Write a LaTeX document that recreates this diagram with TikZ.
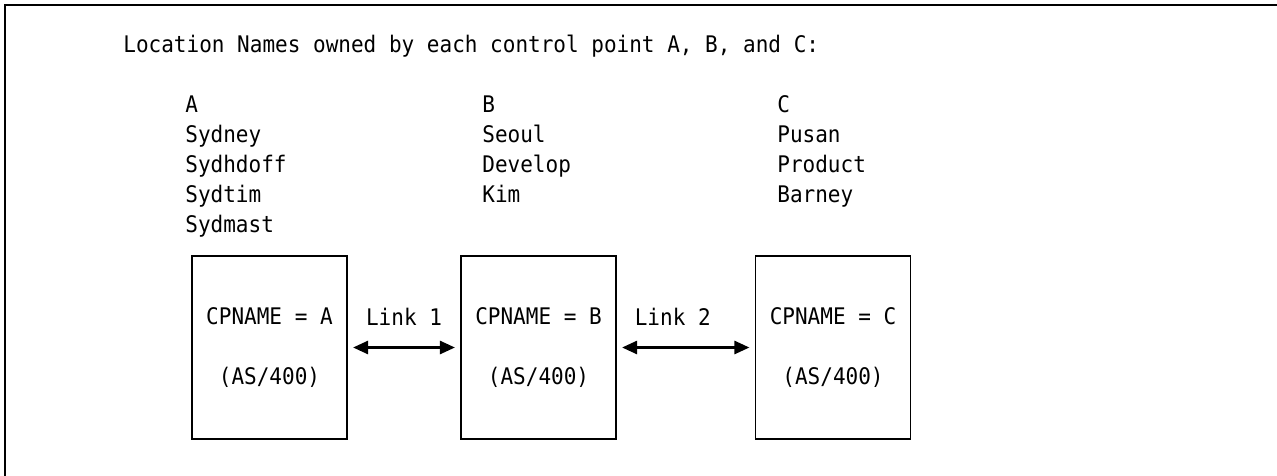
\documentclass[tikz,border=0pt]{standalone}
\usepackage{fontspec}
\newfontfamily\cpfont[FakeStretch=0.92]{DejaVu Sans Mono}
\usetikzlibrary{positioning, arrows.meta}

\begin{document}
\begin{tikzpicture}[
  x=0.02cm, y=-0.02cm,
  frame/.style={line width=1.1pt, black},
  cpbox/.style={rectangle, draw=black, line width=1pt, minimum width=3.1cm, minimum height=3.66cm, inner sep=0pt, align=center, font=\cpfont\fontsize{13pt}{17pt}\selectfont},
  entry/.style={anchor=base west, inner sep=0pt, font=\cpfont\fontsize{13pt}{17pt}\selectfont},
  link/.style={{Triangle[length=8.5pt, width=7.5pt]}-{Triangle[length=8.5pt, width=7.5pt]}, line width=1.2pt, shorten <=3pt, shorten >=3pt},
  linklabel/.style={above=12pt, inner sep=0pt, font=\cpfont\fontsize{13pt}{17pt}\selectfont}
]
\useasboundingbox (0,0) rectangle (1277,476);

% Frame (cut off at right and bottom)
\draw[frame] (5,480) -- (5,5) -- (1280,5);

% Heading
\node[entry] (title) at (123,53) {Location Names owned by each control point A, B, and C:};

% Location names per control point
\foreach \name [count=\i from 0] in {A, Sydney, Sydhdoff, Sydtim, Sydmast}
  \node[entry] (a\i) at (185,{113+30*\i}) {\name};
\foreach \name [count=\i from 0] in {B, Seoul, Develop, Kim}
  \node[entry] (b\i) at (482,{113+30*\i}) {\name};
\foreach \name [count=\i from 0] in {C, Pusan, Product, Barney}
  \node[entry] (c\i) at (777,{113+30*\i}) {\name};

% Control points
\node[cpbox] (cpA) at (269.5,347.5) {CPNAME = A\\[17.6pt](AS/400)};
\node[cpbox] (cpB) at (538.5,347.5) {CPNAME = B\\[17.6pt](AS/400)};
\node[cpbox] (cpC) at (833,347.5) {CPNAME = C\\[17.6pt](AS/400)};

% Links
\draw[link] (cpA) -- node[linklabel] {Link 1} (cpB);
\draw[link] (cpB) -- node[linklabel, xshift=-0.26cm] {Link 2} (cpC);

\end{tikzpicture}
\end{document}
